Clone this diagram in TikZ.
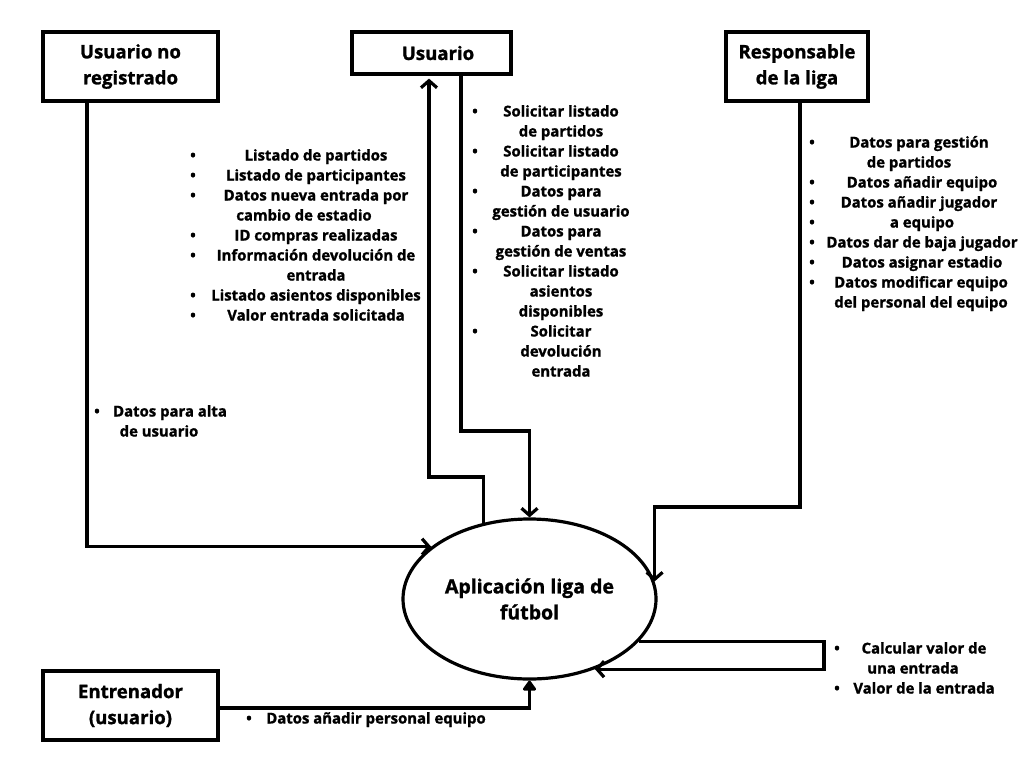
\documentclass[tikz,border=0pt]{standalone}
\usepackage{fontspec}
\setmainfont{Open Sans}[BoldFeatures={FakeBold=1.3}]
\usetikzlibrary{arrows.meta,shapes.geometric}
\newcommand{\lblfont}{\fontsize{14.9}{20}\selectfont\bfseries}
\newcommand{\headfont}{\fontsize{18.6}{26}\selectfont\bfseries}
\newcommand{\appfont}{\fontsize{19.5}{26}\selectfont\bfseries}
\tikzset{
  box/.style={draw, line width=3.2pt, inner sep=0pt, align=center, font=\headfont},
  lbl/.style={font=\lblfont, inner sep=0pt, anchor=base},
  bul/.style={font=\lblfont, inner sep=0pt, anchor=base},
  flow/.style={line width=3.2pt, -{Straight Barb[length=7pt,width=16pt]}},
  flowtri/.style={line width=3.2pt, -{Triangle[length=11pt,width=15pt,round]}},
}
\begin{document}
\begin{tikzpicture}[x=1pt,y=-1pt]
\fill[white] (0,0) rectangle (1024,768);
\useasboundingbox (0,0) rectangle (1024,768);

% boxes
\node[box, minimum width=175pt, minimum height=69pt] (nr) at (130.5,66.5) {Usuario no\\registrado};
\node[box, minimum width=159pt, minimum height=42pt] (usr) at (431.5,53) {\hspace*{13pt}Usuario};
\node[box, minimum width=142pt, minimum height=69pt] (rl) at (797,66.5) {Responsable\\de la liga};
\node[box, minimum width=175pt, minimum height=69pt] (ent) at (130.5,705.5) {Entrenador\\(usuario)};
\node[draw, ellipse, line width=3.2pt, minimum width=253pt, minimum height=160pt, inner sep=0pt, align=center, font=\appfont] (app) at (529.5,599) {Aplicación liga de\\fútbol};

% bend coordinates
\coordinate (c1) at (429,477);
\coordinate (c2) at (461,431);
\coordinate (c3) at (app.8 |- 0,507);
\coordinate (c4) at (824,0);

% connectors
\draw[flow] ([xshift=-43.5pt]nr.south) |- (app.152);
\draw[flow, shorten >=3pt] (app.121) |- (c1) -- (c1 |- usr.south);
\draw[flow] (c2 |- usr.south) -- (c2) -| (app.north);
\draw[flow] ([xshift=3pt]rl.south) |- (c3) -- (app.8);
\draw[flow] (app.339) -- (app.339 -| c4) |- (app.313);
\draw[flowtri] ([yshift=-2.5pt]ent.east) -| (app.south);

% left list
\foreach \x/\y/\t [count=\i] in {316/156/Listado de partidos, 316/176/Listado de participantes, 316/196/Datos nueva entrada por, 304/216/cambio de estadio, 316/236/ID compras realizadas, 316/256/Información devolución de, 316/276/entrada, 316/296/Listado asientos disponibles, 316/316/Valor entrada solicitada}
  \node[lbl] (la\i) at (\x,\y+4.5) {\t};
\foreach \y [count=\i] in {156,176,196,236,256,296,316}
  \node[bul] (ba\i) at (193,\y+4.5) {•};

% usuario list
\foreach \x/\y/\t [count=\i] in {561/112/Solicitar listado, 561/132/de partidos, 561/152/Solicitar listado, 561/172/de participantes, 561/192/Datos para, 561/212/gestión de usuario, 561/232/Datos para, 561/252/gestión de ventas, 561/272/Solicitar listado, 561/292/asientos, 561/312/disponibles, 561/332/Solicitar, 561/352/devolución, 561/372/entrada}
  \node[lbl] (lu\i) at (\x,\y+4.5) {\t};
\foreach \y [count=\i] in {112,152,192,232,272,332}
  \node[bul] (bu\i) at (475,\y+4.5) {•};

% responsable list
\foreach \x/\y/\t [count=\i] in {919/143/Datos para gestión, 909/163/de partidos, 922/183/Datos añadir equipo, 919/203/Datos añadir jugador, 922/223/a equipo, 922/243/Datos dar de baja jugador, 922/263/Datos asignar estadio, 921/283/Datos modificar equipo, 921/303/del personal del equipo}
  \node[lbl] (lr\i) at (\x,\y+4.5) {\t};
\foreach \y [count=\i] in {143,183,203,223,243,263,283}
  \node[bul] (br\i) at (812,\y+4.5) {•};

% loop list
\foreach \x/\y/\t [count=\i] in {924/649/Calcular valor de, 913/669/una entrada, 924/689/Valor de la entrada}
  \node[lbl] (lc\i) at (\x,\y+4.5) {\t};
\node[bul] (bc1) at (837,649+4.5) {•};
\node[bul] (bc2) at (837,689+4.5) {•};

% alta
\node[bul] (bal) at (97,412+4.5) {•};
\node[lbl] (lal1) at (170,412+4.5) {Datos para alta};
\node[lbl] (lal2) at (159,432+4.5) {de usuario};

% personal
\node[bul] (bpe) at (249,719+4.5) {•};
\node[lbl] (lpe) at (376,719+4.5) {Datos añadir personal equipo};
\end{tikzpicture}
\end{document}
